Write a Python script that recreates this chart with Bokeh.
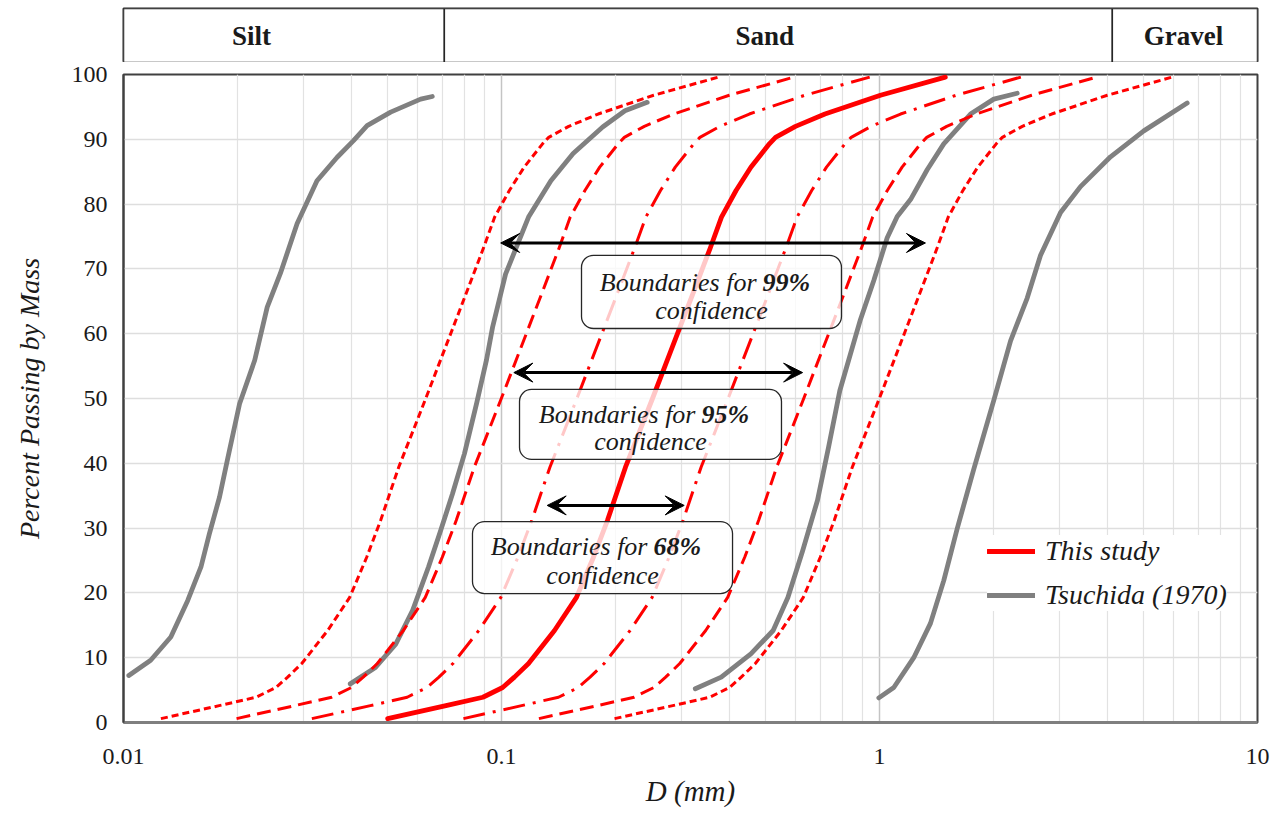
from bokeh.plotting import figure
from bokeh.layouts import column
from bokeh.models import (Range1d, FixedTicker, CustomJSTickFormatter, BoxAnnotation,
                          Label, Arrow, VeeHead, Legend, LegendItem)
from bokeh.core.properties import value
from bokeh.embed import file_html
from bokeh.resources import INLINE

# ---------------------------------------------------------------- data
# Percent passing (%) shared by the study curve and its confidence bounds
study_pct = [0.6, 2.6, 3.9, 5.4, 7.0, 9.1, 14.2, 19.3, 25.5, 31.2, 39.4, 44.5, 50.0,
             55.0, 60.0, 66.0, 73.3, 78.0, 82.1, 85.7, 89.3, 90.3, 92.0, 93.9, 96.8, 99.6]

# Mean gradation of this study, D (mm)
study_d = [0.0500, 0.0713, 0.0893, 0.1007, 0.1082, 0.1179, 0.1381, 0.1579, 0.1751, 0.1907,
           0.2128, 0.2304, 0.2509, 0.2707, 0.2921, 0.3200, 0.3571, 0.3819, 0.4174, 0.4568,
           0.5113, 0.5308, 0.5995, 0.7172, 1.006, 1.493]

# 68 % confidence bounds, D (mm)
ci68_lo_d = [0.0315, 0.0450, 0.0563, 0.0635, 0.0683, 0.0744, 0.0871, 0.0996, 0.1105, 0.1203,
             0.1343, 0.1454, 0.1583, 0.1708, 0.1843, 0.2019, 0.2253, 0.2410, 0.2634, 0.2882,
             0.3226, 0.3349, 0.3783, 0.4525, 0.6348, 0.9421]
ci68_hi_d = [0.0793, 0.1130, 0.1415, 0.1596, 0.1715, 0.1869, 0.2189, 0.2503, 0.2775, 0.3023,
             0.3373, 0.3652, 0.3977, 0.4291, 0.4630, 0.5072, 0.5660, 0.6053, 0.6616, 0.7240,
             0.8104, 0.8413, 0.9502, 1.137, 1.595, 2.366]

# 95 % confidence bounds, D (mm)
ci95_lo_d = [0.01991, 0.02838, 0.03555, 0.04009, 0.04307, 0.04694, 0.05498, 0.06286, 0.06971,
             0.07592, 0.08472, 0.09172, 0.09988, 0.1078, 0.1163, 0.1274, 0.1422, 0.1520,
             0.1662, 0.1819, 0.2036, 0.2113, 0.2387, 0.2855, 0.4005, 0.5944]
ci95_hi_d = [0.1256, 0.1791, 0.2243, 0.2530, 0.2718, 0.2962, 0.3469, 0.3966, 0.4399, 0.4790,
             0.5346, 0.5788, 0.6303, 0.6800, 0.7338, 0.8038, 0.8970, 0.9593, 1.0485, 1.1475,
             1.2844, 1.3334, 1.5059, 1.8016, 2.5271, 3.7504]

# 99 % confidence bounds, D (mm)
ci99_lo_d = [0.01256, 0.01791, 0.02243, 0.02530, 0.02718, 0.02962, 0.03469, 0.03966, 0.04399,
             0.04790, 0.05346, 0.05788, 0.06303, 0.06800, 0.07338, 0.08038, 0.08970, 0.09593,
             0.1049, 0.1148, 0.1284, 0.1333, 0.1506, 0.1802, 0.2527, 0.3750]
ci99_hi_d = [0.1991, 0.2838, 0.3555, 0.4009, 0.4307, 0.4694, 0.5498, 0.6286, 0.6971, 0.7592,
             0.8472, 0.9172, 0.9988, 1.078, 1.163, 1.274, 1.422, 1.520, 1.662, 1.819, 2.036,
             2.113, 2.387, 2.855, 4.005, 5.944]

# Tsuchida (1970) gradation limits
tsu1_pct = [7.25, 9.6, 13.2, 18.8, 24.0, 29.1, 34.8, 40.9, 49.2, 55.9, 64.1, 69.3, 77.0,
            83.6, 87.2, 89.8, 92.1, 94.2, 96.2, 96.6]
tsu1_d = [0.01033, 0.01180, 0.01334, 0.01478, 0.01603, 0.01687, 0.01795, 0.01889, 0.02028,
          0.02224, 0.0240, 0.0260, 0.0288, 0.0325, 0.0367, 0.0406, 0.0441, 0.0509, 0.0611, 0.0656]

tsu2_pct = [5.96, 8.5, 12.1, 17.3, 24.0, 29.6, 35.3, 41.5, 49.2, 56.0, 61.0, 69.2, 78.0,
            83.6, 87.8, 91.9, 94.4, 95.7]
tsu2_d = [0.0398, 0.0464, 0.0525, 0.0582, 0.0641, 0.0690, 0.0742, 0.0798, 0.0859, 0.0913,
          0.0947, 0.1025, 0.1179, 0.1351, 0.1547, 0.1852, 0.2121, 0.2429]

tsu3_pct = [5.2, 7.0, 10.6, 14.2, 19.3, 26.5, 34.3, 42.5, 51.2, 62.2, 68.2, 74.8, 78.1,
            80.7, 85.3, 89.3, 93.9, 96.2, 97.1]
tsu3_d = [0.3256, 0.3814, 0.4568, 0.5232, 0.5723, 0.6262, 0.6855, 0.7334, 0.7852, 0.8906,
          0.9658, 1.048, 1.114, 1.208, 1.337, 1.479, 1.741, 2.006, 2.314]

tsu4_pct = [3.8, 5.4, 10.0, 15.3, 21.9, 29.9, 39.1, 49.7, 58.9, 65.5, 72.1, 78.7, 82.7,
            87.3, 91.3, 95.6]
tsu4_d = [0.996, 1.091, 1.232, 1.364, 1.479, 1.605, 1.776, 2.006, 2.222, 2.459, 2.667, 3.013,
          3.402, 4.085, 5.003, 6.516]

# Soil classes along the top band
class_names = ["Silt", "Sand", "Gravel"]
class_edges = [0.01, 0.0706, 4.13, 10.0]
class_label_d = [0.0218, 0.497, 6.37]

# Confidence ranges marked by double arrows
band_names = ["99%", "95%", "68%"]
arrow_pct = [74.0, 54.0, 33.5]
arrow_lo_d = [0.0995, 0.1078, 0.1321]
arrow_hi_d = [1.323, 0.626, 0.3043]

# ------------------------------------------------------- note box layout
note_boxes = [  # left, right (mm), top, bottom (%), centre (mm), line 1 / line 2 (%)
    dict(left=0.1628, right=0.7931, top=72.1, bottom=60.8, cx=0.3594, l1=67.9, l2=63.6),
    dict(left=0.1116, right=0.5504, top=51.4, bottom=40.6, cx=0.2478, l1=47.5, l2=43.3),
    dict(left=0.0838, right=0.4085, top=31.0, bottom=19.9, cx=0.1850, l1=27.1, l2=22.7),
]

SERIF = "Liberation Serif"
RED = "#ff0000"
GREY = "#808080"
INK = "#1a1a1a"

# ---------------------------------------------------------- main chart
p = figure(x_axis_type="log", x_range=Range1d(0.01, 10), y_range=Range1d(0, 100),
           frame_width=1134, frame_height=648,
           min_border_left=123, min_border_right=19, min_border_top=12, min_border_bottom=93,
           toolbar_location=None, output_backend="svg", title=None,
           background_fill_color="white", border_fill_color="white")

minor = [m * 10.0 ** e for e in (-2, -1, 0) for m in range(2, 10)]
p.xaxis.ticker = FixedTicker(ticks=[0.01, 0.1, 1, 10], minor_ticks=minor)
p.xaxis.formatter = CustomJSTickFormatter(code="return String(tick);")
p.yaxis.ticker = FixedTicker(ticks=list(range(0, 101, 10)))

for ax in (p.xaxis[0], p.yaxis[0]):
    ax.major_tick_line_color = None
    ax.minor_tick_line_color = None
    ax.major_label_text_font = SERIF
    ax.major_label_text_font_size = "24px"
    ax.major_label_text_color = INK
    ax.axis_label_text_font = SERIF
    ax.axis_label_text_font_style = "italic"
    ax.axis_label_text_color = INK

p.xaxis.axis_label = "D (mm)"
p.xaxis.axis_label_text_font_size = "29px"
p.xaxis.major_label_standoff = 20
p.xaxis.axis_label_standoff = 8
p.xaxis.axis_line_color = "#7f7f7f"
p.xaxis.axis_line_width = 3

p.yaxis.axis_label = "Percent Passing by Mass"
p.yaxis.axis_label_text_font_size = "28px"
p.yaxis.major_label_standoff = 10
p.yaxis.axis_label_standoff = 24
p.yaxis.axis_line_color = "#404040"
p.yaxis.axis_line_width = 2

p.outline_line_color = "#404040"
p.outline_line_width = 2

p.xgrid.grid_line_color = "#c4c4c4"
p.xgrid.grid_line_width = 1.5
p.xgrid.minor_grid_line_color = "#e2e2e2"
p.xgrid.minor_grid_line_width = 1.2
p.ygrid.grid_line_color = "#dedede"
p.ygrid.grid_line_width = 1.5

# Tsuchida (1970) limits
r_tsu = p.multi_line(xs=[tsu1_d, tsu2_d, tsu3_d, tsu4_d],
                     ys=[tsu1_pct, tsu2_pct, tsu3_pct, tsu4_pct],
                     line_color=GREY, line_width=4.8, line_cap="round", line_join="round")

# Confidence bounds
bounds = [
    (ci99_lo_d, "7 4", 3), (ci99_hi_d, "7 4", 3),
    (ci95_lo_d, "14 7", 3), (ci95_hi_d, "14 7", 3),
    (ci68_lo_d, "22 8 3 8", 3), (ci68_hi_d, "22 8 3 8", 3),
]
for d_vals, dash, w in bounds:
    p.line(d_vals, study_pct, line_color=RED, line_width=w, line_dash=dash,
           line_join="round")

# Mean gradation of this study
r_study = p.line(study_d, study_pct, line_color=RED, line_width=4.8,
                 line_cap="round", line_join="round")

# Double arrows marking each confidence range
for lo, hi, pct in zip(arrow_lo_d, arrow_hi_d, arrow_pct):
    p.add_layout(Arrow(x_start=lo, x_end=hi, y_start=pct, y_end=pct,
                       line_color="black", line_width=3,
                       start=VeeHead(size=19, fill_color="black", line_color="black"),
                       end=VeeHead(size=19, fill_color="black", line_color="black")))

# Rounded note boxes with their captions
for box, name in zip(note_boxes, band_names):
    p.add_layout(BoxAnnotation(left=box["left"], right=box["right"],
                               top=box["top"], bottom=box["bottom"],
                               fill_color="white", fill_alpha=0.78,
                               line_color="#262626", line_width=1.3, line_alpha=1,
                               border_radius=12))
    common = dict(x=box["cx"], text_font=SERIF, text_font_size="26px",
                  text_color=INK, text_baseline="middle")
    p.add_layout(Label(y=box["l1"], text="Boundaries for", x_offset=45,
                       text_align="right", text_font_style="italic", **common))
    p.add_layout(Label(y=box["l1"], text=name, x_offset=51,
                       text_align="left", text_font_style="bold italic", **common))
    p.add_layout(Label(y=box["l2"], text="confidence",
                       text_align="center", text_font_style="italic", **common))

legend = Legend(items=[LegendItem(label="This study", renderers=[r_study]),
                       LegendItem(label="Tsuchida (1970)", renderers=[r_tsu])],
                location=(864, 111), margin=0, padding=6, spacing=12,
                glyph_width=48, glyph_height=24, label_height=24, label_standoff=10,
                label_text_font=SERIF, label_text_font_style="italic",
                label_text_font_size="28px", label_text_color=INK,
                border_line_color=None, background_fill_color="white",
                background_fill_alpha=1)
p.add_layout(legend)

# ---------------------------------------------------- soil class band
hdr = figure(x_axis_type="log", x_range=p.x_range, y_range=Range1d(0, 1),
             frame_width=1134, frame_height=54,
             min_border_left=123, min_border_right=19, min_border_top=8, min_border_bottom=0,
             toolbar_location=None, output_backend="svg", title=None,
             x_axis_location=None, y_axis_location=None,
             background_fill_color="white", border_fill_color="white")
hdr.grid.visible = False
hdr.outline_line_color = "#262626"
hdr.outline_line_width = 2
hdr.quad(left=class_edges[:-1], right=class_edges[1:], bottom=0, top=1,
         fill_color="white", line_color="#262626", line_width=1.5)
hdr.text(x=class_label_d, y=[0.5] * len(class_names), text=class_names,
         text_font=value(SERIF), text_font_style="bold", text_font_size="27px",
         text_color=INK, text_align="center", text_baseline="middle")

layout = column(hdr, p, spacing=0)

with open("out.html", "w") as f:
    f.write(file_html(layout, INLINE))
